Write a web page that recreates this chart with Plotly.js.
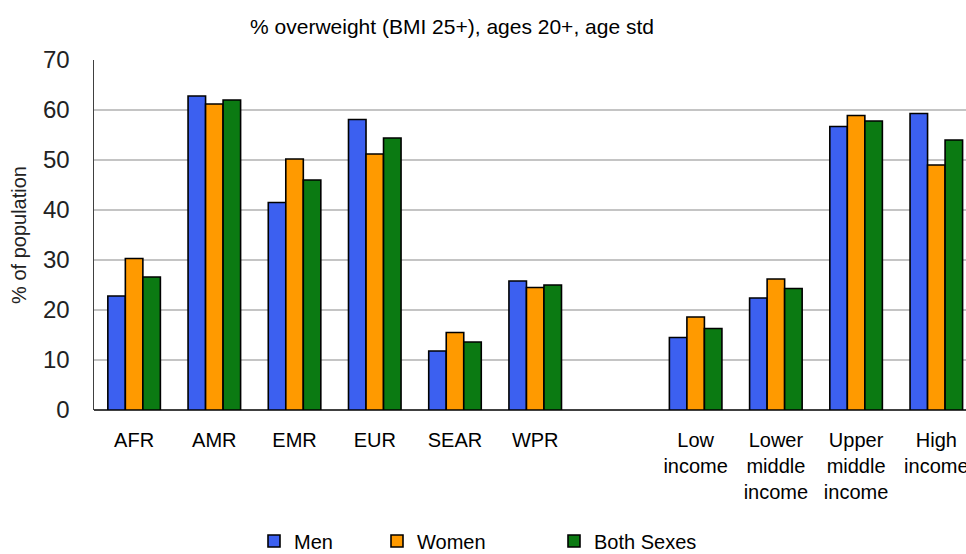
<!DOCTYPE html>
<html>
<head>
<meta charset="utf-8">
<script src="https://cdn.plot.ly/plotly-3.0.1.min.js"></script>
<style>html,body{margin:0;padding:0;background:#fff;}#chart{width:966px;height:554px;}</style>
</head>
<body>
<div id="chart"></div>
<script>
var categories = ["AFR", "AMR", "EMR", "EUR", "SEAR", "WPR", " ",
  "Low<br>income", "Lower<br>middle<br>income", "Upper<br>middle<br>income", "High<br>income"];
var men   = [22.8, 62.8, 41.5, 58.1, 11.8, 25.8, null, 14.5, 22.4, 56.7, 59.3];
var women = [30.3, 61.2, 50.2, 51.2, 15.5, 24.5, null, 18.6, 26.2, 58.9, 49.0];
var both  = [26.6, 62.0, 46.0, 54.4, 13.6, 25.0, null, 16.3, 24.3, 57.8, 54.0];
var seriesNames = ["Men", "Women", "Both Sexes"];
var yTicks = [0, 10, 20, 30, 40, 50, 60, 70];

var FONT = "Liberation Sans, Arial, sans-serif";
var colors = ["#3c60f0", "#ff9a00", "#0b7a12"];
var vals = [men, women, both];
var legendIds = ["legend", "legend2", "legend3"];
var legendLeft = [254, 377, 554];

var traces = vals.map(function (v, i) {
  return {
    type: "bar", x: categories, y: v, name: seriesNames[i],
    legend: legendIds[i],
    marker: {color: colors[i], line: {color: "#000", width: 1.6}},
    hoverinfo: "x+y"
  };
});

var layout = {
  width: 966, height: 554,
  margin: {l: 94, r: 0, t: 60, b: 144},
  paper_bgcolor: "#fff", plot_bgcolor: "#fff",
  font: {family: FONT, color: "#000"},
  barmode: "group", bargap: 0.345, bargroupgap: 0,
  title: {text: "% overweight (BMI 25+), ages 20+, age std",
    font: {family: FONT, size: 21, color: "#000"},
    x: 452 / 966, xanchor: "center", xref: "container", y: 1 - 27 / 554, yanchor: "middle", yref: "container"},
  xaxis: {
    type: "category", categoryorder: "array", categoryarray: categories,
    range: [-0.5, 10.37], fixedrange: true,
    showline: false, showgrid: false, zeroline: false, ticks: "",
    tickfont: {family: FONT, size: 20, color: "#000"}, ticklabelstandoff: 16,
    automargin: false
  },
  yaxis: {
    range: [0, 70], tickvals: yTicks, ticktext: yTicks.map(String),
    showgrid: true, gridcolor: "#c4c4c4", gridwidth: 1.5,
    showline: true, linecolor: "#404040", linewidth: 1.5,
    zeroline: true, zerolinecolor: "#404040", zerolinewidth: 2,
    ticks: "", tickfont: {family: FONT, size: 24, color: "#222"}, ticklabelstandoff: 18,
    title: {text: "% of population", font: {family: FONT, size: 20, color: "#222"}, standoff: 11},
    automargin: false, fixedrange: true
  },
  showlegend: true
};

legendIds.forEach(function (id, i) {
  layout[id] = {
    orientation: "h", xref: "container", x: legendLeft[i] / 966, xanchor: "left",
    yref: "container", y: 1 - 541 / 554, yanchor: "middle",
    font: {family: FONT, size: 20, color: "#000"},
    itemwidth: 30, bgcolor: "rgba(0,0,0,0)", borderwidth: 0
  };
});

Plotly.newPlot("chart", traces, layout, {displayModeBar: false, staticPlot: true});
</script>
</body>
</html>
